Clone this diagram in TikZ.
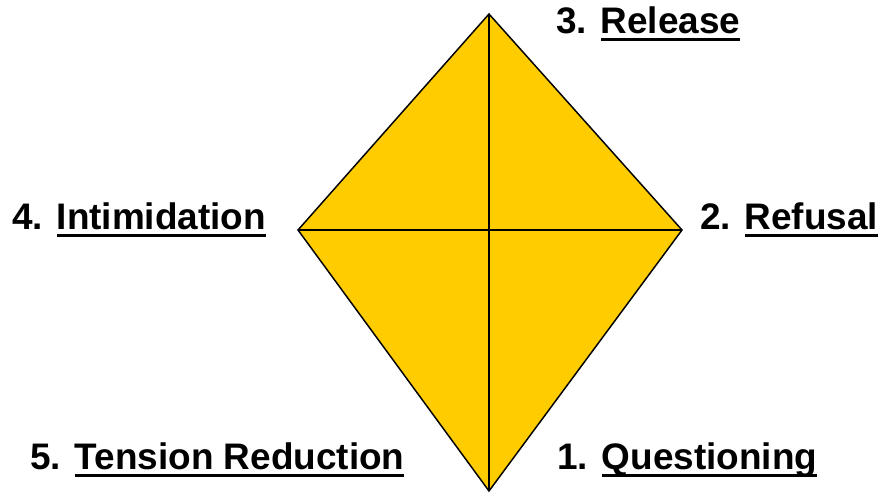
\documentclass[tikz,border=0pt]{standalone}
\usepackage{fontspec}
\setmainfont{Liberation Sans}
\definecolor{kite}{HTML}{FFCC00}
\newcommand\myul[1]{\setbox0\hbox{#1}\rlap{\rule[-6.2pt]{\wd0}{2.2pt}}\box0}
\tikzset{
  lbl/.style={anchor=base west, inner sep=0pt, font=\fontsize{27.7}{30}\selectfont\bfseries},
  edge/.style={draw=black, line width=1.1pt, line join=miter}
}
\begin{document}
\begin{tikzpicture}[x=0.75pt,y=-0.75pt]
\useasboundingbox (0,0) rectangle (879,494);
\coordinate (T) at (489,14);
\coordinate (L) at (298,230);
\coordinate (R) at (682,230);
\coordinate (B) at (489,491);
\fill[kite] (T) -- (R) -- (B) -- (L) -- cycle;
\draw[edge] (T) -- (R) -- (B) -- (L) -- cycle;
\draw[edge] (T) -- (B);
\draw[edge] (L) -- (R);
\node[lbl] (rel) at (556,33) {3. \myul{Release}};
\node[lbl] (int) at (12,229) {4. \myul{Intimidation}};
\node[lbl] (ref) at (700,229) {2. \myul{Refusal}};
\node[lbl] (ten) at (30,469) {5. \myul{Tension Reduction}};
\node[lbl] (que) at (557,469) {1. \myul{Questioning}};
\end{tikzpicture}
\end{document}
